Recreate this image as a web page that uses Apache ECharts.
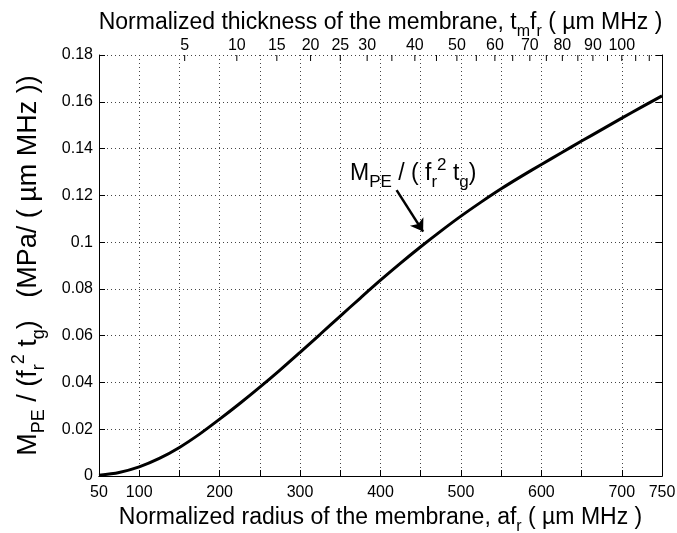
<!DOCTYPE html>
<html>
<head>
<meta charset="utf-8">
<script src="https://cdn.jsdelivr.net/npm/echarts@6/dist/echarts.min.js"></script>
<style>
  html, body { margin: 0; padding: 0; background: #fff; }
  #chart { width: 677px; height: 533px; }
</style>
</head>
<body>
<div id="chart"></div>
<script>
// normalized radius a*f_r (um MHz)
const radius = [50, 75, 100, 125, 150, 175, 200, 225, 250, 275, 300, 325, 350, 375, 400,
  425, 450, 475, 500, 525, 550, 575, 600, 625, 650, 675, 700, 725, 750]
// M_PE / (f_r^2 t_g)
const mpe = [0.0003, 0.0015, 0.0039, 0.0075, 0.0122, 0.0179, 0.0243, 0.0310, 0.0380, 0.0453,
  0.0529, 0.0606, 0.0684, 0.0761, 0.0837, 0.0910, 0.0980, 0.1047, 0.1111, 0.1171, 0.1228,
  0.1281, 0.1332, 0.1382, 0.1432, 0.1481, 0.1530, 0.1578, 0.1625]

const bottomLabels = [50, 100, 200, 300, 400, 500, 600, 700, 750]
// top axis: normalized thickness t_m f_r, radius = K * sqrt(thickness)
const THICK_K = 70
const topTicks = [5, 10, 15, 20, 25, 30, 35, 40, 45, 50, 55, 60, 65, 70, 75, 80, 85, 90, 95, 100, 105, 110]
const topLabels = [5, 10, 15, 20, 25, 30, 40, 50, 60, 70, 80, 90, 100]
// arrow of the annotation: [radius, value] tail -> tip
const arrowCoords = [[420, 0.1222], [453, 0.1045]]

const FONT = 'Liberation Sans, Arial, sans-serif'
const chart = echarts.init(document.getElementById('chart'))

function richSet(size, subSize) {
  return {
    t: { fontSize: size, fontFamily: FONT, color: '#000', lineHeight: size, padding: [0, 0, 6, 0], verticalAlign: 'bottom' },
    sub: { fontSize: subSize, fontFamily: FONT, color: '#000', lineHeight: subSize, verticalAlign: 'bottom' },
    sup: { fontSize: subSize, fontFamily: FONT, color: '#000', lineHeight: subSize, padding: [0, 0, Math.round(size * 0.75), 0], verticalAlign: 'bottom' },
  }
}

const tickStyle = { show: true, inside: true, length: 6, lineStyle: { color: '#000' } }
const gridLine = { show: true, lineStyle: { type: [1, 3], color: '#444', width: 1 } }

chart.setOption({
  animation: false,
  grid: { left: 99, right: 15, top: 55, bottom: 57, outerBoundsMode: 'none', containLabel: false },
  xAxis: [{
    type: 'value', min: 50, max: 750, interval: 50,
    axisLine: { lineStyle: { color: '#000' } },
    axisTick: tickStyle,
    splitLine: gridLine,
    axisLabel: {
      color: '#000', fontSize: 16, fontFamily: FONT, margin: 9,
      formatter: v => bottomLabels.indexOf(v) >= 0 ? String(v) : '',
    },
    name: '{t|Normalized radius of the membrane, af}{sub|r}{t| ( µm MHz )}',
    nameLocation: 'middle', nameGap: 25,
    nameTextStyle: { rich: richSet(23, 16) },
  }, {
    type: 'value', min: 50, max: 750, position: 'top',
    axisLine: { lineStyle: { color: '#000' } },
    axisTick: { show: false }, axisLabel: { show: false }, splitLine: { show: false },
    name: '{t|Normalized thickness of the membrane, t}{sub|m}{t|f}{sub|r}{t| ( µm MHz )}',
    nameLocation: 'middle', nameGap: 15,
    nameTextStyle: { rich: richSet(23, 16) },
  }],
  yAxis: [{
    type: 'value', min: 0, max: 0.18, interval: 0.02,
    axisLine: { show: true, lineStyle: { color: '#000' } },
    axisTick: tickStyle,
    splitLine: gridLine,
    axisLabel: { color: '#000', fontSize: 16, fontFamily: FONT, margin: 6 },
    name: '{t|M}{sub|PE}{t| / (f}{sub|r}{sup|2}{t| t}{sub|g}{t|)   (MPa/ ( µm MHz ))}',
    nameLocation: 'middle', nameGap: 51, nameRotate: 90,
    nameTextStyle: { rich: richSet(27, 18) },
  }, {
    type: 'value', min: 0, max: 0.18, interval: 0.02, position: 'right',
    axisLine: { show: true, lineStyle: { color: '#000' } },
    axisTick: tickStyle, axisLabel: { show: false }, splitLine: { show: false },
  }],
  graphic: [{
    type: 'text', left: 350, top: 157,
    style: {
      text: '{t|M}{sub|PE}{t| / ( f}{sub|r}{sup|2}{t| t}{sub|g}{t|)}',
      rich: richSet(23, 17),
    },
  }],
  series: [{
    type: 'line',
    data: radius.map((r, i) => [r, mpe[i]]),
    smooth: 0.3, showSymbol: false,
    lineStyle: { color: '#000', width: 3 },
  }, {
    type: 'lines', coordinateSystem: 'cartesian2d',
    symbol: ['none', 'arrow'], symbolSize: 12,
    lineStyle: { color: '#000', width: 2.5, opacity: 1 },
    data: [{ coords: arrowCoords }],
  }, {
    type: 'custom', xAxisIndex: 1, yAxisIndex: 1, clip: false,
    data: topTicks.map(t => [THICK_K * Math.sqrt(t), t]),
    renderItem: (params, api) => {
      const x = api.coord([api.value(0), 0.18])[0]
      const top = params.coordSys.y
      const t = api.value(1)
      const children = [{
        type: 'line', shape: { x1: x, y1: top, x2: x, y2: top + 6 },
        style: { stroke: '#000', lineWidth: 1 },
      }]
      if (topLabels.indexOf(t) >= 0) {
        children.push({
          type: 'text',
          style: { text: String(t), x: x, y: top - 9, align: 'center', verticalAlign: 'middle',
            font: '16px ' + FONT, fill: '#000' },
        })
      }
      return { type: 'group', children: children }
    },
  }],
})
</script>
</body>
</html>
